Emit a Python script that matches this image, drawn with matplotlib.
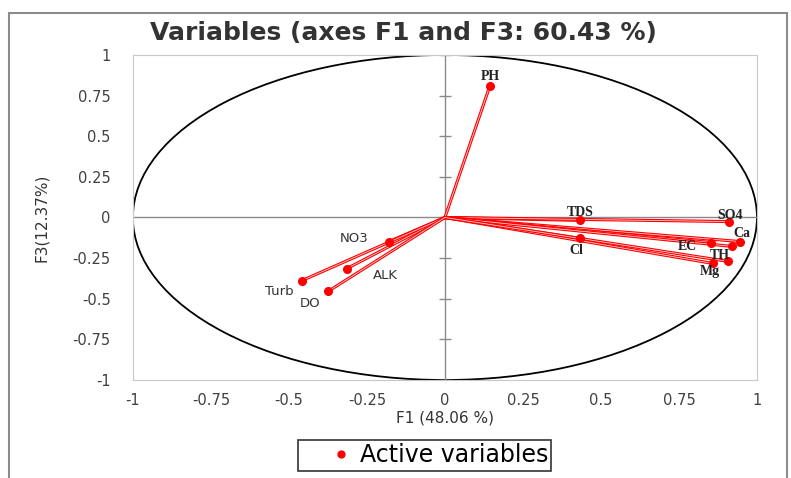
import numpy as np
import matplotlib
matplotlib.use("Agg")
import matplotlib.pyplot as plt
from matplotlib.patches import Ellipse, Rectangle

# loadings on F1 / F3
names = ["PH", "TDS", "SO4", "Ca", "EC", "", "TH", "Mg", "Cl", "NO3", "ALK", "Turb", "DO"]
f1 = [0.144, 0.433, 0.91, 0.946, 0.853, 0.92, 0.907, 0.859, 0.433, -0.179, -0.314, -0.458, -0.375]
f3 = [0.81, -0.018, -0.025, -0.148, -0.154, -0.178, -0.27, -0.283, -0.129, -0.148, -0.314, -0.388, -0.455]
ticks = [-1, -0.75, -0.5, -0.25, 0, 0.25, 0.5, 0.75, 1]
tick_labels = ["-1", "-0.75", "-0.5", "-0.25", "0", "0.25", "0.5", "0.75", "1"]

# label offsets (points) and fonts
offsets = {"PH": (0, 7), "TDS": (0, 6), "SO4": (1, 4), "Ca": (1, 6), "EC": (-17, -3),
           "TH": (-6, 4), "Mg": (-2, -6), "Cl": (-3, -9), "NO3": (-25, 2),
           "ALK": (28, -5), "Turb": (-16, -8), "DO": (-13, -9)}
sans_names = ["NO3", "ALK", "Turb", "DO"]

fig = plt.figure(figsize=(7.91, 4.78), dpi=100)
fig.patches.append(Rectangle((0.011, -0.01), 0.984, 0.983, transform=fig.transFigure,
                             fill=False, edgecolor="#8c8c8c", linewidth=1.5))
ax = fig.add_axes([0.168, 0.205, 0.789, 0.68])
ax.set_xlim(-1, 1)
ax.set_ylim(-1, 1)

ax.axhline(0, color="#8a8a8a", lw=1)
ax.axvline(0, color="#8a8a8a", lw=1)
tk = np.array(ticks)
ax.plot(np.zeros_like(tk), tk, ls="none", marker="_", ms=8, color="#8a8a8a", mew=1)
ax.add_patch(Ellipse((0, 0), 2, 2, fill=False, edgecolor="black", lw=1.3))

for x, y in zip(f1, f3):
    ax.plot([0, x], [0, y], color="red", lw=2.2, solid_capstyle="butt")
    ax.plot([0, x], [0, y], color="#ffd0d0", lw=0.6)
ax.plot(f1, f3, ls="none", marker="o", ms=5.5, color="red", label="Active variables")

for n, x, y in zip(names, f1, f3):
    if not n:
        continue
    if n in sans_names:
        ax.annotate(n, (x, y), xytext=offsets[n], textcoords="offset points",
                    ha="center", va="center", fontsize=9.5, color="#333333",
                    family="DejaVu Sans")
    else:
        ax.annotate(n, (x, y), xytext=offsets[n], textcoords="offset points",
                    ha="center", va="center", fontsize=10, color="#222222",
                    family="Liberation Serif", fontweight="bold")

ax.set_xticks(ticks)
ax.set_xticklabels(tick_labels)
ax.set_yticks(ticks)
ax.set_yticklabels(tick_labels)
ax.tick_params(length=0, labelsize=10.5, labelcolor="#404040")
ax.tick_params(axis="x", pad=9)
ax.tick_params(axis="y", pad=16)
for s in ax.spines.values():
    s.set_color("#c8c8c8")

ax.set_xlabel("F1 (48.06 %)", fontsize=11, color="#333333", labelpad=2)
ax.set_ylabel("F3(12.37%)", fontsize=11, color="#333333", labelpad=17)
fig.text(0.51, 0.93, "Variables (axes F1 and F3: 60.43 %)", ha="center", va="center",
         fontsize=18, fontweight="bold", color="#333333", family="DejaVu Sans")

leg = ax.legend(loc="center", bbox_to_anchor=(0.537, 0.048), bbox_transform=fig.transFigure,
                frameon=True, fancybox=False, handlelength=3.3,
                handletextpad=-0.85, borderpad=0.15, markerscale=0.9,
                prop={"family": "DejaVu Sans", "size": 17})
leg.get_frame().set_edgecolor("black")
leg.get_frame().set_linewidth(1.2)

fig.savefig("out.png", dpi=100)
